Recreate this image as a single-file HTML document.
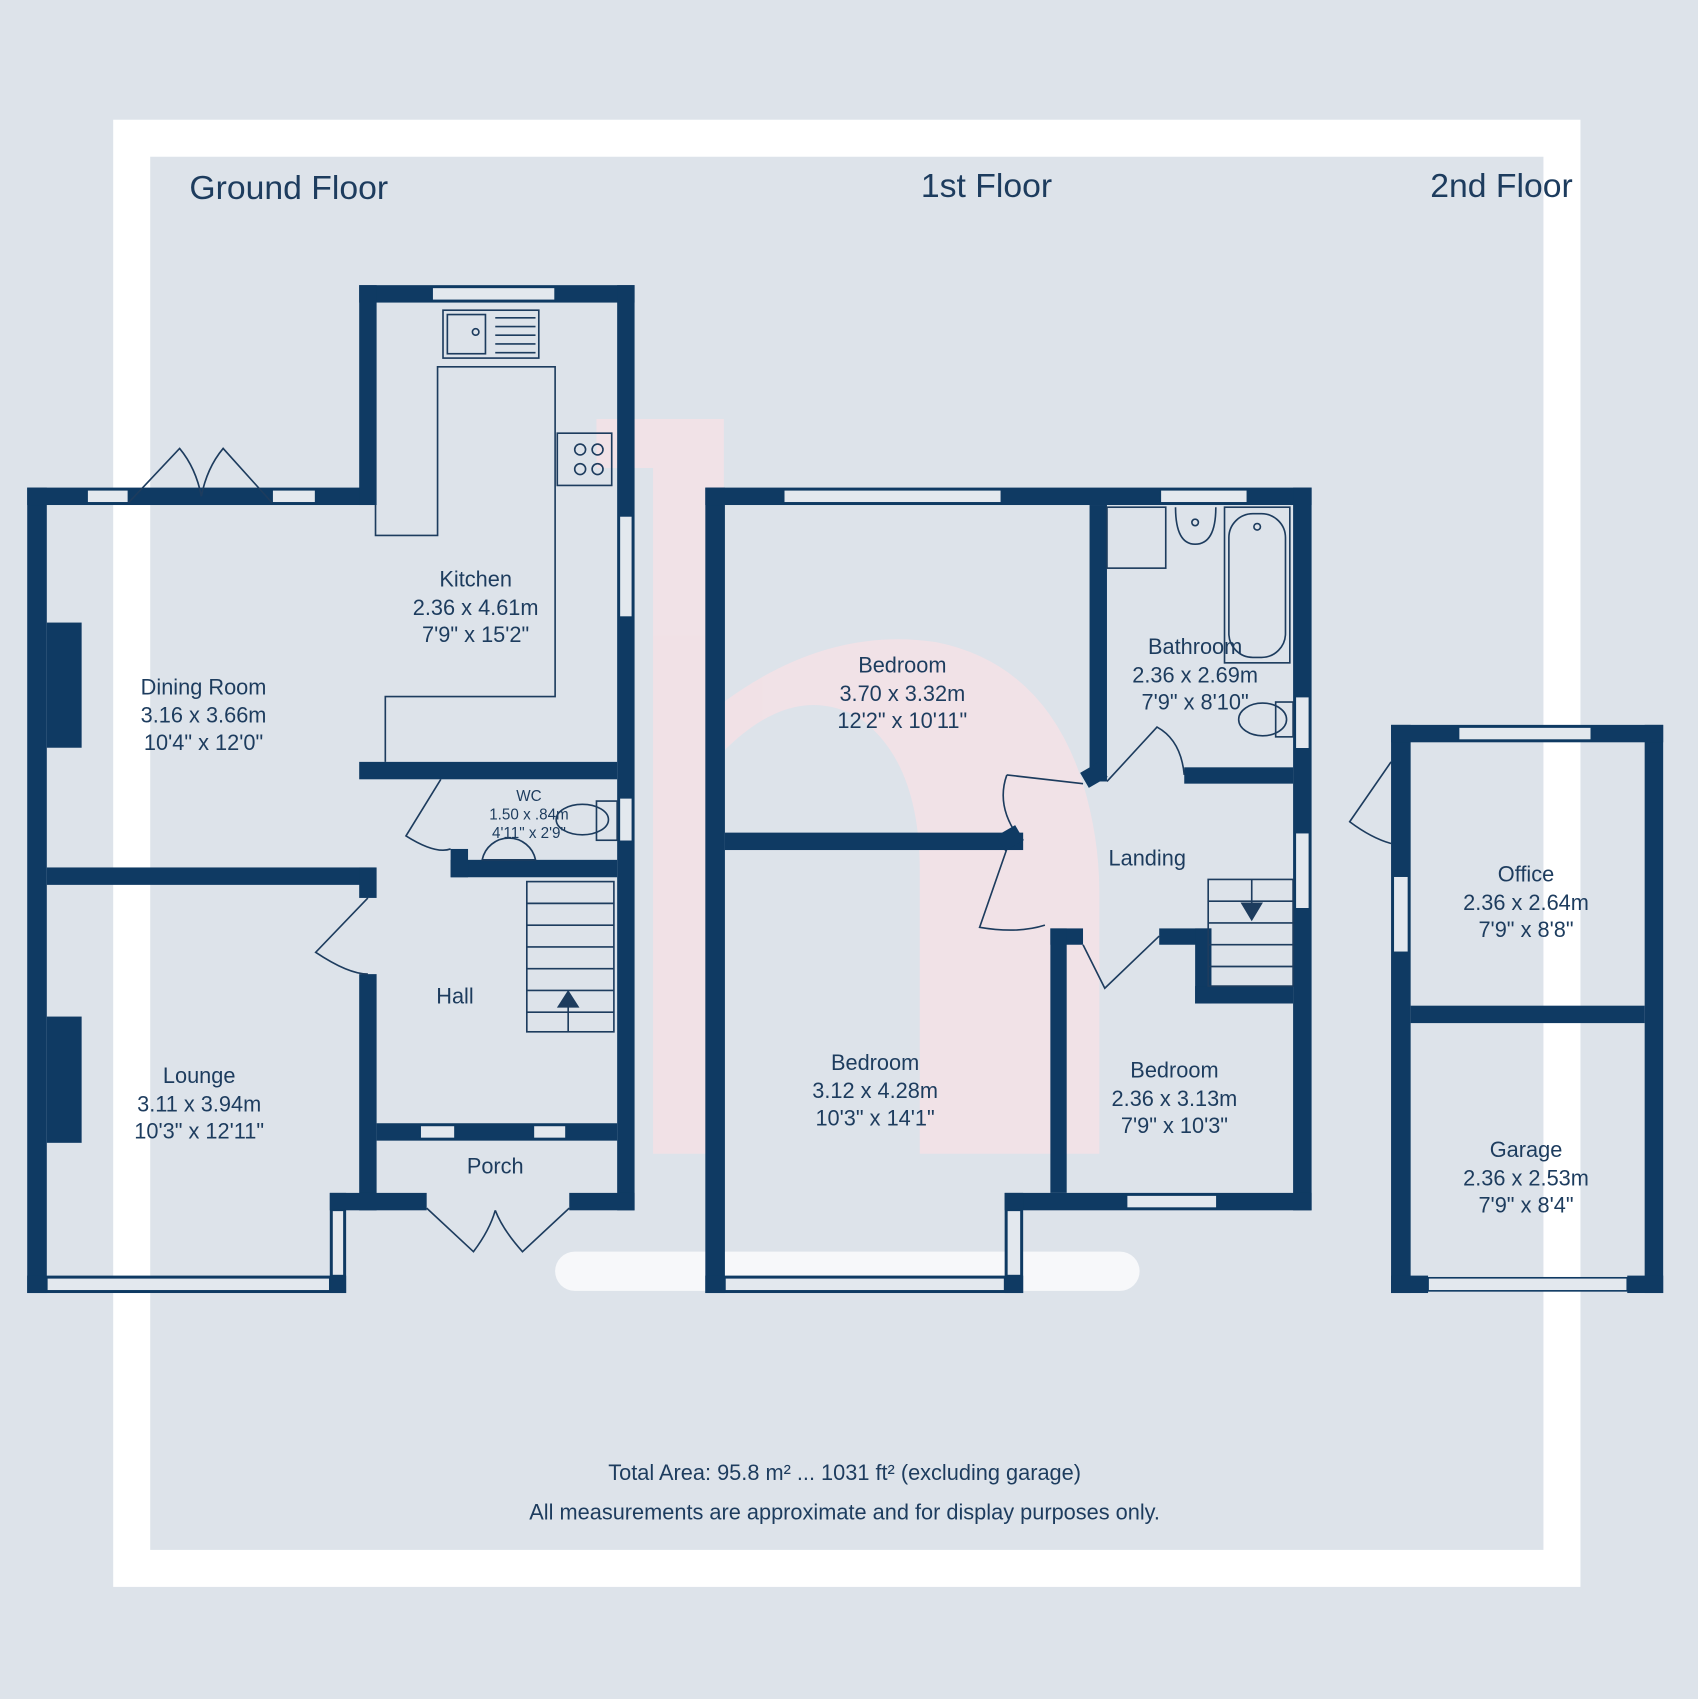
<!DOCTYPE html>
<html><head><meta charset="utf-8"><style>
html,body{margin:0;padding:0;background:#dde3ea;}
svg{display:block;}
text{font-family:"Liberation Sans",sans-serif;fill:#1d3c5e;}
</style></head><body>
<svg width="1698" height="1699" viewBox="0 0 1560 1561" preserveAspectRatio="none" xmlns="http://www.w3.org/2000/svg">
<rect width="1560" height="1561" fill="#dde3ea"/>
<rect x="121" y="127" width="1314" height="1314" fill="none" stroke="#ffffff" stroke-width="34"/>
<!-- watermark -->
<g fill="#f6e1e6" opacity="0.8">
<path d="M548 385 H665 V1060 H600 V430 H548Z"/>
<path d="M665 645 Q760 575 860 590 Q960 610 995 720 Q1010 770 1010 820 V1060 H845 V800 Q845 700 790 660 Q730 625 665 690Z"/>
</g>
<rect x="510" y="1150" width="537" height="36" rx="18" fill="#f7f8fa"/>
<g font-size="31"><text x="174" y="183">Ground Floor</text><text x="846" y="181">1st Floor</text><text x="1314" y="181">2nd Floor</text></g>
<g fill="#0f3a63">
<rect x="25" y="448" width="18" height="740"/>
<rect x="25" y="448" width="320" height="16"/>
<rect x="43" y="572" width="32" height="115"/><rect x="43" y="934" width="32" height="116"/>
<rect x="330" y="262" width="253" height="16"/>
<rect x="330" y="262" width="16" height="202"/>
<rect x="567" y="262" width="16" height="850"/>
<rect x="330" y="700" width="237" height="16"/>
<rect x="43" y="797" width="302" height="16"/>
<rect x="330" y="797" width="16" height="28"/>
<rect x="330" y="895" width="16" height="217"/>
<rect x="25" y="1172" width="293" height="16"/>
<rect x="303" y="1096" width="15" height="92"/>
<rect x="303" y="1096" width="89" height="16"/>
<rect x="523" y="1096" width="60" height="16"/>
<rect x="414" y="790" width="153" height="16"/><rect x="414" y="780" width="16" height="26"/>
<rect x="346" y="1032" width="221" height="16"/>
<rect x="648" y="448" width="18" height="740"/>
<rect x="648" y="448" width="557" height="16"/>
<rect x="1188" y="448" width="17" height="664"/>
<rect x="923" y="1096" width="282" height="16"/>
<rect x="923" y="1096" width="17" height="92"/>
<rect x="648" y="1172" width="292" height="16"/>
<rect x="1001" y="464" width="16" height="254"/>
<rect x="666" y="765" width="274" height="16"/>
<rect x="1088" y="705" width="100" height="15"/>
<rect x="965" y="853" width="30" height="15"/><rect x="1065" y="853" width="48" height="15"/>
<rect x="965" y="853" width="15" height="243"/>
<rect x="1098" y="853" width="15" height="69"/>
<rect x="1098" y="906" width="90" height="16"/>
<rect x="1278" y="666" width="18" height="522"/>
<rect x="1511" y="666" width="17" height="522"/>
<rect x="1278" y="666" width="250" height="16"/>
<rect x="1296" y="924" width="215" height="16"/>
<rect x="1278" y="1172" width="34" height="16"/><rect x="1495" y="1172" width="33" height="16"/>
</g>
<g fill="#e3e8ee" stroke="#0f3a63" stroke-width="1.5">
<rect x="80" y="450" width="38" height="12"/><rect x="250" y="450" width="40" height="12"/>
<rect x="397" y="264" width="113" height="12"/><rect x="569" y="474" width="12" height="93"/>
<rect x="569" y="733" width="12" height="40"/>
<rect x="386" y="1034" width="32" height="12"/><rect x="490" y="1034" width="30" height="12"/>
<rect x="43" y="1174" width="260" height="12"/><rect x="305" y="1112" width="11" height="60"/>
<rect x="720" y="450" width="200" height="12"/><rect x="1066" y="450" width="80" height="12"/>
<rect x="1190" y="640" width="13" height="48"/><rect x="1190" y="765" width="13" height="70"/>
<rect x="1035" y="1098" width="83" height="12"/>
<rect x="666" y="1174" width="257" height="12"/><rect x="925" y="1112" width="13" height="60"/>
<rect x="1340" y="668" width="122" height="12"/><rect x="1280" y="805" width="14" height="70"/>
<rect x="1312" y="1174" width="183" height="12"/>
</g>
<g fill="none" stroke="#1d3c5e" stroke-width="1.5">
<path d="M118 462 L165 412 Q180 430 185 456 M250 462 L205 412 Q190 430 185 456"/>
<path d="M392 1110 L435 1150 Q450 1130 455 1112 M523 1110 L480 1150 Q462 1130 455 1112"/>
<path d="M345 464 V492 H402 V337 H510 V640 H354 V700"/>
<rect x="407" y="285" width="88" height="44"/><rect x="411" y="289" width="35" height="36"/>
<path d="M455 292H492M455 300H492M455 308H492M455 316H492M455 324H492"/>
<circle cx="437" cy="305" r="3"/>
<rect x="512" y="398" width="50" height="48"/>
<circle cx="533" cy="413" r="5"/><circle cx="549" cy="413" r="5"/><circle cx="533" cy="431" r="5"/><circle cx="549" cy="431" r="5"/>
<path d="M405 716 L373 768 Q400 785 414 780"/>
<path d="M338 825 L290 875 Q320 895 338 895"/>
<path d="M443 790 A25 25 0 0 1 492 790Z"/>
<ellipse cx="535" cy="753" rx="24" ry="14"/><rect x="548" y="736" width="19" height="36"/>
<rect x="484" y="810" width="80" height="138"/>
<path d="M484 830H564M484 850H564M484 870H564M484 890H564M484 910H564M484 930H564M522 948V915"/>
<path d="M513 925L522 911L531 925Z" fill="#1d3c5e"/>
<rect x="1110" y="808" width="78" height="98"/>
<path d="M1110 828H1188M1110 848H1188M1110 868H1188M1110 888H1188M1150 808V840"/>
<path d="M1141 830L1150 845L1159 830Z" fill="#1d3c5e"/>
<rect x="1017" y="466" width="54" height="56"/>
<path d="M1080 466 Q1080 500 1098 500 Q1117 500 1117 466"/><circle cx="1098" cy="480" r="3"/>
<rect x="1125" y="466" width="60" height="143"/><rect x="1129" y="472" width="52" height="132" rx="22"/>
<circle cx="1155" cy="484" r="3"/>
<ellipse cx="1160" cy="661" rx="22" ry="15"/><rect x="1172" y="645" width="16" height="32"/>
<path d="M1017 718 L1063 668 Q1085 680 1088 712"/>
<path d="M925 712 L995 720 M925 712 Q915 740 935 768"/>
<path d="M925 780 L900 852 Q935 858 960 850"/>
<path d="M995 868 L1015 908 L1065 860"/>
<path d="M1278 700 L1240 755 Q1260 770 1278 775"/>
</g>
<rect x="995" y="704" width="20" height="16" fill="#0f3a63" transform="rotate(-30 1005 712)"/>
<rect x="918" y="762" width="20" height="16" fill="#0f3a63" transform="rotate(-30 928 770)"/>
<g font-size="20" text-anchor="middle">
<text x="437" y="539">Kitchen</text><text x="437" y="565">2.36 x 4.61m</text><text x="437" y="590">7'9" x 15'2"</text>
<text x="187" y="638">Dining Room</text><text x="187" y="664">3.16 x 3.66m</text><text x="187" y="689">10'4" x 12'0"</text>
<text x="418" y="922">Hall</text>
<text x="183" y="995">Lounge</text><text x="183" y="1021">3.11 x 3.94m</text><text x="183" y="1046">10'3" x 12'11"</text>
<text x="455" y="1078">Porch</text>
<text x="829" y="618">Bedroom</text><text x="829" y="644">3.70 x 3.32m</text><text x="829" y="669">12'2" x 10'11"</text>
<text x="1098" y="601">Bathroom</text><text x="1098" y="627">2.36 x 2.69m</text><text x="1098" y="652">7'9" x 8'10"</text>
<text x="1054" y="795">Landing</text>
<text x="804" y="983">Bedroom</text><text x="804" y="1009">3.12 x 4.28m</text><text x="804" y="1034">10'3" x 14'1"</text>
<text x="1079" y="990">Bedroom</text><text x="1079" y="1016">2.36 x 3.13m</text><text x="1079" y="1041">7'9" x 10'3"</text>
<text x="1402" y="810">Office</text><text x="1402" y="836">2.36 x 2.64m</text><text x="1402" y="861">7'9" x 8'8"</text>
<text x="1402" y="1063">Garage</text><text x="1402" y="1089">2.36 x 2.53m</text><text x="1402" y="1114">7'9" x 8'4"</text>
<text x="776" y="1360">Total Area: 95.8 m² ... 1031 ft² (excluding garage)</text>
<text x="776" y="1396">All measurements are approximate and for display purposes only.</text>
</g>
<g font-size="14" text-anchor="middle">
<text x="486" y="736">WC</text><text x="486" y="753">1.50 x .84m</text><text x="486" y="770">4'11" x 2'9"</text>
</g>
</svg>
</body></html>
